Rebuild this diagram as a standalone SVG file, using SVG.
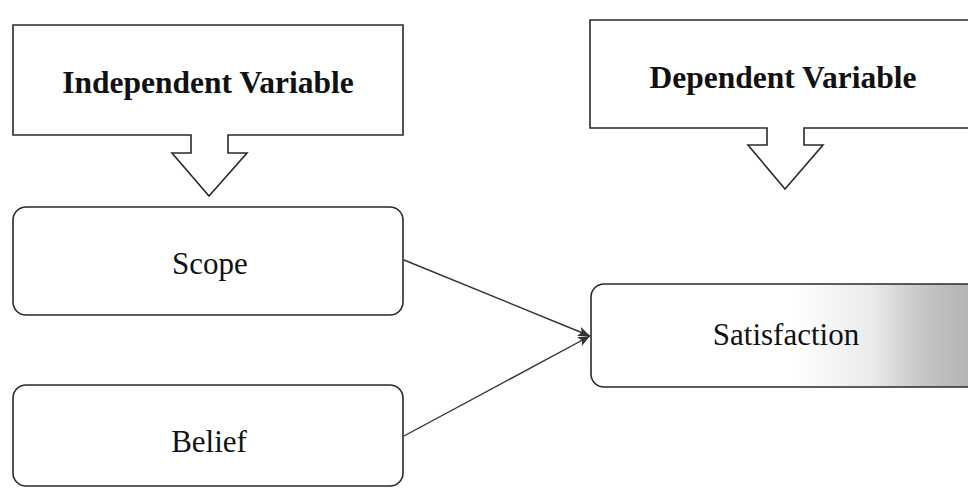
<svg xmlns="http://www.w3.org/2000/svg" width="968" height="488" viewBox="0 0 968 488">
  <style>
    .frame { fill: #ffffff; stroke: #2a2a2a; stroke-width: 1.6; }
    .callout { fill: #ffffff; stroke: #2a2a2a; stroke-width: 1.6; stroke-linejoin: miter; }
    .title { font-family: "Liberation Serif", "Times New Roman", serif; font-weight: bold; font-size: 31.5px; fill: #111111; text-anchor: middle; }
    .label { font-family: "Liberation Serif", "Times New Roman", serif; font-size: 31px; fill: #111111; text-anchor: middle; }
    .conn { fill: none; stroke: #333333; stroke-width: 1.4; }
  </style>
  <defs>
    <marker id="arrow" viewBox="0 0 12 10" refX="12" refY="5" markerWidth="12" markerHeight="10" markerUnits="userSpaceOnUse" orient="auto">
      <path d="M0,0 L12,5 L0,10 L3,5 Z" fill="#333333"/>
    </marker>
    <linearGradient id="scan" x1="591" y1="0" x2="980" y2="0" gradientUnits="userSpaceOnUse">
      <stop offset="0" stop-color="#ffffff"/>
      <stop offset="0.52" stop-color="#ffffff"/>
      <stop offset="0.72" stop-color="#ebebeb"/>
      <stop offset="0.86" stop-color="#c4c4c4"/>
      <stop offset="1" stop-color="#b0b0b0"/>
    </linearGradient>
  </defs>

  <g id="independent-variable">
    <path class="callout" d="M13,25 L403,25 L403,135 L228,135 L228,153 L247,153 L209,196 L172,153 L191,153 L191,135 L13,135 Z"/>
    <text class="title" x="208" y="93">Independent Variable</text>
  </g>

  <g id="dependent-variable">
    <path class="callout" d="M590,20 L980,20 L980,128 L804,128 L804,145 L823,145 L785,189 L748,145 L767,145 L767,128 L590,128 Z"/>
    <text class="title" x="783" y="88">Dependent Variable</text>
  </g>

  <g id="scope">
    <rect class="frame" x="13" y="207" width="390" height="108" rx="13" ry="13"/>
    <text class="label" x="210" y="274">Scope</text>
  </g>

  <g id="belief">
    <rect class="frame" x="13" y="385" width="390" height="101" rx="13" ry="13"/>
    <text class="label" x="209" y="452">Belief</text>
  </g>

  <g id="satisfaction">
    <rect class="frame" x="591" y="284" width="392" height="103" rx="13" ry="13" style="fill:url(#scan)"/>
    <text class="label" x="786" y="345">Satisfaction</text>
  </g>

  <g id="connectors">
    <line class="conn" x1="404" y1="260" x2="590" y2="336" marker-end="url(#arrow)"/>
    <line class="conn" x1="404" y1="436" x2="590" y2="336" marker-end="url(#arrow)"/>
  </g>
</svg>
